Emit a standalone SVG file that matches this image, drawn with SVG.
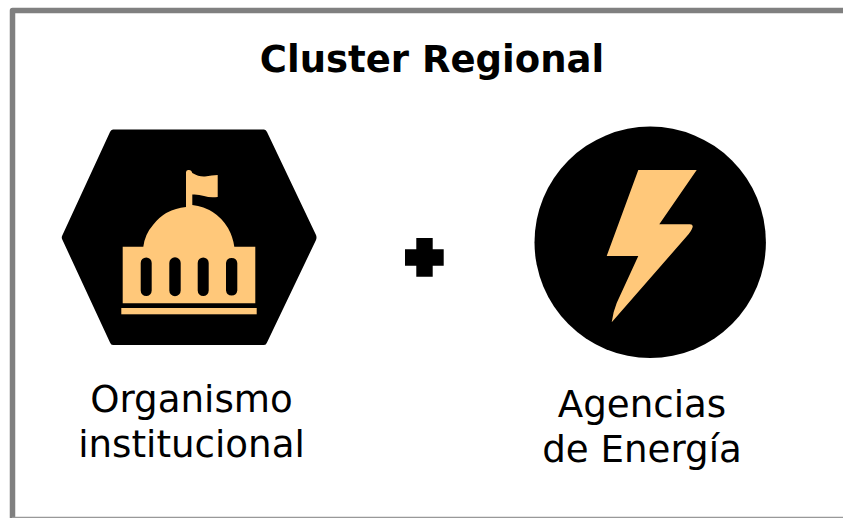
<svg xmlns="http://www.w3.org/2000/svg" width="843" height="518" viewBox="0 0 843 518">
<style>
text{font-family:"DejaVu Sans",Verdana,sans-serif;fill:#000;text-anchor:middle}
.t{font-size:37px;font-weight:bold}
.l{font-size:37.200px}
.i{fill:#ffc87a}
</style>
<rect width="843" height="518" fill="#fff"/>
<g id="frame"><path d="M12.5 518V10.5H843" fill="none" stroke="#808080" stroke-width="5.5" stroke-linejoin="round"/><path d="M12 517.5H843" fill="none" stroke="#999" stroke-width="1.5"/></g>
<text class="t" x="432" y="71.500">Cluster Regional</text>
<g id="organismo">
<path d="M113 129.500H264Q266 129.500 267 132L316 235Q317 237.500 316 240L267 342.500Q266 345 264 345H113Q111 345 110 342.500L62.500 240Q61 237.500 62.500 235L110 132Q111 129.500 113 129.500Z"/>
<path class="i" fill-rule="evenodd" d="M186 207V172Q186.500 169.500 189 170Q191.500 170 192.300 173Q199 177 205 176.500Q212 175 217.700 175V197Q210 198 204 196Q198 194 192.300 194.500V205Q216 208 228 228Q233 237 234.300 246.700H255.300V303.300H122.700V246.700H143.300Q145 234 153 225Q165 209 186 207ZM140.700 263V290.500A5.500 5.500 0 0 0 151.700 290.500V263A5.500 5.500 0 0 0 140.700 263ZM169.300 263V290.500A5.700 5.700 0 0 0 180.700 290.500V263A5.700 5.700 0 0 0 169.300 263ZM197.700 263V290.500A5.500 5.500 0 0 0 208.700 290.500V263A5.500 5.500 0 0 0 197.700 263ZM226 263V290.500A5.700 5.700 0 0 0 237.300 290.500V263A5.700 5.700 0 0 0 226 263Z"/>
<rect class="i" x="121.300" y="308" width="135.400" height="6.300"/>
<text class="l" x="191.500" y="412">Organismo</text>
<text class="l" x="191.500" y="457">institucional</text>
</g>
<path id="plus" d="M416.300 238H432.700V249.300H443.700V265.700H432.700V276.700H416.300V265.700H405V249.300H416.300Z"/>
<g id="agencias">
<circle cx="650.200" cy="242.300" r="115.700"/>
<path class="i" d="M638.300 170H696.700L659.300 224.300H690Q693.500 224.500 692.500 227.500Q691.500 231 687 236L611.700 322.300Q613 312 616.700 303L638.300 256H606.700Z"/>
<text class="l" x="642" y="416.500">Agencias</text>
<text class="l" x="642" y="462">de Energía</text>
</g>
</svg>
